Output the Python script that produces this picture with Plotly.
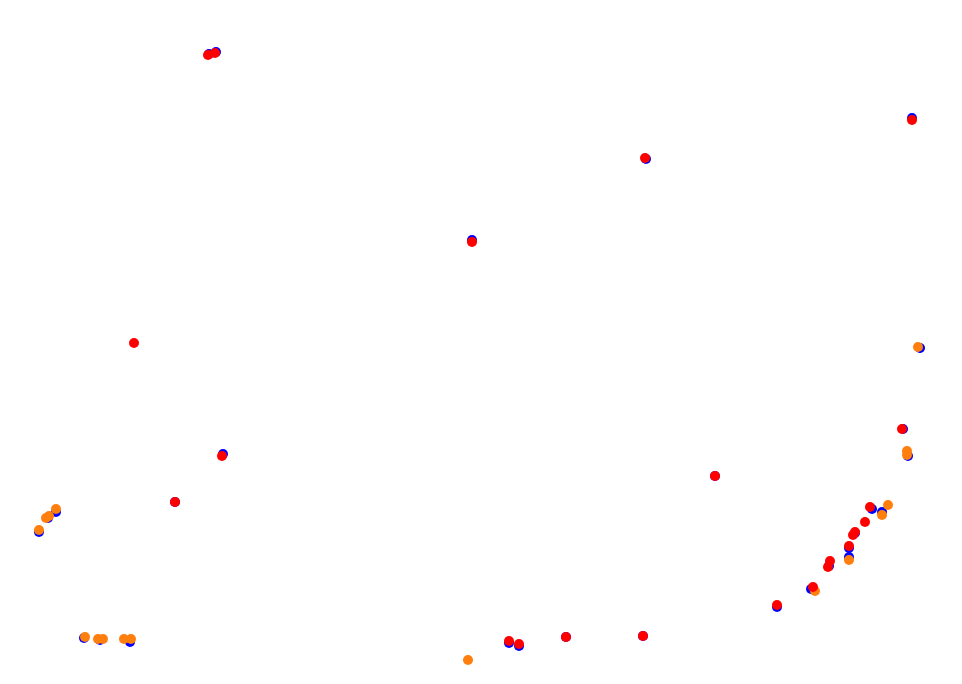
import plotly.graph_objects as go

# track-position samples (x, y) per series
blue_x = [209, 216, 646, 912, 764, 472, 223, 175, 715, 903, 908, 872, 882, 855, 849, 849, 829, 811, 777, 643, 566, 509, 519, 56, 48, 39, 84, 100, 130, 920]
blue_y = [630, 632, 525, 566, 686, 444, 230, 182, 208, 255, 228, 175, 172, 151, 136, 127, 118, 95, 77, 48, 47, 41, 38, 172, 166, 152, 46, 44, 42, 336]

black_x = [920]
black_y = [336]

orange_x = [907, 907, 888, 882, 849, 815, 468, 56, 49, 46, 39, 85, 98, 103, 124, 131, 918]
orange_y = [233, 229, 179, 169, 124, 93, 24, 175, 168, 166, 154, 47, 45, 45, 45, 45, 337]

red_x = [208, 215, 645, 912, 472, 134, 222, 175, 715, 902, 870, 865, 855, 853, 849, 830, 828, 813, 777, 643, 566, 509, 519]
red_y = [629, 631, 526, 564, 442, 341, 228, 182, 208, 255, 177, 162, 152, 149, 138, 123, 117, 97, 79, 48, 47, 43, 40]

fig = go.Figure()
fig.add_trace(go.Scatter(x=black_x, y=black_y, mode="markers", marker=dict(color="black", size=9), showlegend=False))
fig.add_trace(go.Scatter(x=blue_x, y=blue_y, mode="markers", marker=dict(color="blue", size=10), showlegend=False))
fig.add_trace(go.Scatter(x=orange_x, y=orange_y, mode="markers", marker=dict(color="#ff7f0e", size=10), showlegend=False))
fig.add_trace(go.Scatter(x=red_x, y=red_y, mode="markers", marker=dict(color="red", size=10), showlegend=False))

fig.update_layout(
    width=962, height=684,
    margin=dict(l=0, r=0, t=0, b=0),
    paper_bgcolor="white", plot_bgcolor="white",
    xaxis=dict(range=[8, 970], visible=False),
    yaxis=dict(range=[-8, 676], visible=False),
)
fig.write_html("out.html")
